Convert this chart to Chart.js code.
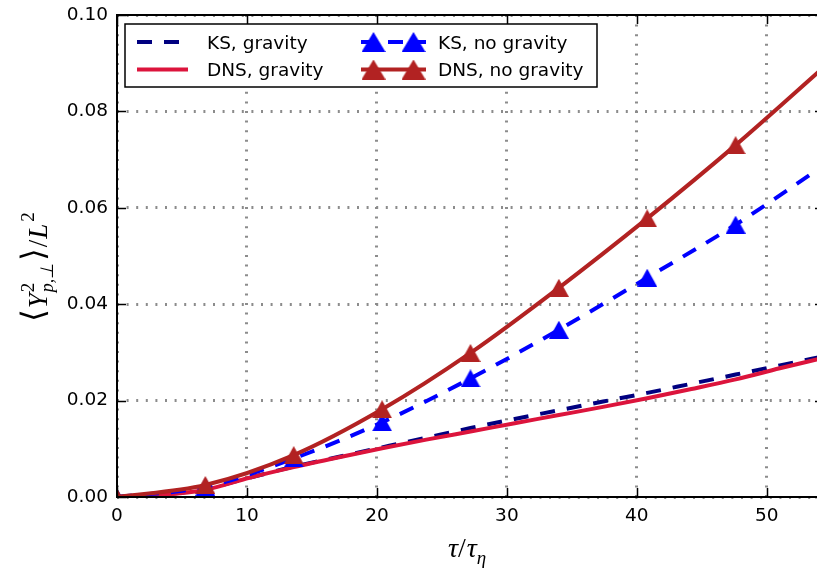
<!DOCTYPE html>
<html>
<head>
<meta charset="utf-8">
<script src="https://cdn.jsdelivr.net/npm/chart.js@4.4.1/dist/chart.umd.min.js"></script>
<style>
  html, body { margin: 0; padding: 0; background: #fff; overflow: hidden; }
  #frame { width: 817px; height: 573px; overflow: hidden; position: relative; }
  canvas { display: block; position: absolute; left: 0; top: 0; }
</style>
</head>
<body>
<div id="frame"><canvas id="chart" width="830" height="573"></canvas></div>
<script>
// Dispersion of particle pairs, normalised by L^2, against tau / tau_eta
const tauFine     = [0, 3.4, 6.8, 10.2, 13.6, 17.0, 20.4, 23.8, 27.2, 30.6, 34.0, 37.4, 40.8, 44.2, 47.6, 51.0, 54.4];
const ksGravity   = [0, 0.0005, 0.0017, 0.0040, 0.0063, 0.0083, 0.0103, 0.0123, 0.0143, 0.0162, 0.0180, 0.0198, 0.0216, 0.0235, 0.0254, 0.0273, 0.0292];
const dnsGravity  = [0, 0.0004, 0.0015, 0.0040, 0.0062, 0.0082, 0.0101, 0.0119, 0.0136, 0.0153, 0.0170, 0.0187, 0.0205, 0.0224, 0.0244, 0.0267, 0.0289];

const tauMarked    = [0, 6.8, 13.6, 20.4, 27.2, 34.0, 40.8, 47.6, 54.4];
const ksNoGravity  = [0, 0.0021, 0.0080, 0.0155, 0.0246, 0.0347, 0.0455, 0.0565, 0.0688];
const dnsNoGravity = [0, 0.0025, 0.0087, 0.0182, 0.0299, 0.0434, 0.0578, 0.0730, 0.0892];

const seriesNames = ['KS, gravity', 'DNS, gravity', 'KS, no gravity', 'DNS, no gravity'];
const xTickValues = [0, 10, 20, 30, 40, 50];
const yTickValues = [0, 0.02, 0.04, 0.06, 0.08, 0.10];

function triangleSprite(color, w, h) {
  const c = document.createElement('canvas');
  c.width = w; c.height = h;
  const g = c.getContext('2d');
  g.fillStyle = color;
  g.beginPath();
  g.moveTo(w / 2, 0);
  g.lineTo(w, h);
  g.lineTo(0, h);
  g.closePath();
  g.fill();
  return c;
}

const blueTri = triangleSprite('#0000ff', 20, 18);
const redTri = triangleSprite('#b22222', 20, 18);
const blueTriBig = triangleSprite('#0000ff', 24, 20);
const redTriBig = triangleSprite('#b22222', 24, 20);

const pairs = (xs, ys) => xs.map((x, i) => ({ x: x, y: ys[i] }));
// markers everywhere except the final sample on the right-hand edge
const markerRadius = ctx => (ctx.raw && ctx.raw.x < 54) ? 10 : 0;

// Inward ticks and the axes frame, drawn over the curves
const framePlugin = {
  id: 'frame',
  afterDatasetsDraw(chart) {
    const { ctx, chartArea: a, scales } = chart;
    ctx.save();
    ctx.strokeStyle = '#000';
    ctx.lineWidth = 1.5;
    ctx.beginPath();
    scales.x.ticks.forEach(t => {
      const px = Math.round(scales.x.getPixelForValue(t.value)) + 0.5;
      ctx.moveTo(px, a.bottom); ctx.lineTo(px, a.bottom - 9);
      ctx.moveTo(px, a.top); ctx.lineTo(px, a.top + 9);
    });
    scales.y.ticks.forEach(t => {
      const py = Math.round(scales.y.getPixelForValue(t.value)) + 0.5;
      ctx.moveTo(a.left, py); ctx.lineTo(a.left + 9, py);
      ctx.moveTo(a.right, py); ctx.lineTo(a.right - 9, py);
    });
    ctx.stroke();
    ctx.lineWidth = 2;
    ctx.strokeRect(a.left, a.top, a.right - a.left, a.bottom - a.top);
    ctx.restore();
  }
};

// Two-column boxed legend
const legendPlugin = {
  id: 'boxLegend',
  afterDraw(chart) {
    const ctx = chart.ctx;
    const ds = chart.data.datasets;
    ctx.save();
    ctx.fillStyle = '#fff';
    ctx.fillRect(125, 24, 472, 63);
    ctx.strokeStyle = '#000';
    ctx.lineWidth = 1.5;
    ctx.strokeRect(125, 24, 472, 63);

    const slots = [
      { d: 0, x1: 137, x2: 188, tx: 207, y: 42, by: 48.5 },
      { d: 1, x1: 137, x2: 188, tx: 207, y: 69.5, by: 76 },
      { d: 2, x1: 361, x2: 426, tx: 438, y: 42, by: 48.5 },
      { d: 3, x1: 361, x2: 426, tx: 438, y: 69.5, by: 76 }
    ];
    slots.forEach(s => {
      const d = ds[s.d];
      ctx.save();
      ctx.strokeStyle = d.borderColor;
      ctx.lineWidth = d.borderWidth;
      ctx.setLineDash(d.borderDash || []);
      ctx.beginPath();
      ctx.moveTo(s.x1, s.y);
      ctx.lineTo(s.x2, s.y);
      ctx.stroke();
      ctx.restore();
      if (d.legendMarker) {
        const m = d.legendMarker;
        ctx.drawImage(m, s.x1 + 12.5 - m.width / 2, s.y - m.height / 2);
        ctx.drawImage(m, s.x2 - 12.5 - m.width / 2, s.y - m.height / 2);
      }
      ctx.fillStyle = '#000';
      ctx.font = '18.5px "DejaVu Sans"';
      ctx.textAlign = 'left';
      ctx.textBaseline = 'alphabetic';
      ctx.fillText(d.label, s.tx, s.by);
    });
    ctx.restore();
  }
};

// Math-style axis titles
function fontOf(p) {
  return (p.italic ? 'italic ' : '') + p.size + 'px ' + (p.family || '"Liberation Serif"');
}
function drawMath(ctx, items, cx, baseline) {
  const widths = items.map(it => {
    const parts = it.group || [it];
    return Math.max(...parts.map(p => { ctx.font = fontOf(p); return ctx.measureText(p.t).width; })) + (it.gap || 0);
  });
  const total = widths.reduce((a, b) => a + b, 0);
  let x = cx - total / 2;
  items.forEach((it, i) => {
    (it.group || [it]).forEach(p => {
      ctx.font = fontOf(p);
      ctx.fillText(p.t, x + (p.dx || 0), baseline + (p.dy || 0));
    });
    x += widths[i];
  });
}

const titlePlugin = {
  id: 'mathTitles',
  afterDraw(chart) {
    const ctx = chart.ctx;
    ctx.save();
    ctx.fillStyle = '#000';
    ctx.textAlign = 'left';
    ctx.textBaseline = 'alphabetic';
    // x: tau / tau_eta
    drawMath(ctx, [
      { t: 'τ', italic: true, size: 28 },
      { t: '/', size: 28, gap: 1 },
      { t: 'τ', italic: true, size: 28 },
      { t: 'η', italic: true, size: 19, dy: 7 }
    ], 467, 557);
    // y: <Y^2_{p,perp}> / L^2, rotated
    ctx.translate(47, 267);
    ctx.rotate(-Math.PI / 2);
    drawMath(ctx, [
      { t: '⟨', size: 32, family: '"DejaVu Sans"', dy: -3, gap: 1 },
      { t: 'Y', italic: true, size: 27, gap: 1 },
      { group: [
          { t: '2', size: 19, dy: -13 },
          { t: 'p,⊥', italic: true, size: 18, dy: 6 }
        ], gap: 2 },
      { t: '⟩', size: 32, family: '"DejaVu Sans"', dy: -3, gap: 1 },
      { t: '/', size: 27, gap: 1 },
      { t: 'L', italic: true, size: 27, gap: 2 },
      { t: '2', size: 19, dy: -13 }
    ], 0, 0);
    ctx.restore();
  }
};

const tickFont = { family: 'DejaVu Sans', size: 18.5 };
const pad = { top: 15, right: 6, left: 0, bottom: 0 };

const chart = new Chart(document.getElementById('chart'), {
  type: 'line',
  data: {
    datasets: [
      {
        label: seriesNames[0], data: pairs(tauFine, ksGravity),
        borderColor: '#000080', borderWidth: 4, borderDash: [15, 12],
        pointRadius: 0, order: 4, cubicInterpolationMode: 'monotone', clip: 0
      },
      {
        label: seriesNames[1], data: pairs(tauFine, dnsGravity),
        borderColor: '#dc143c', borderWidth: 4,
        pointRadius: 0, order: 3, cubicInterpolationMode: 'monotone', clip: 0
      },
      {
        label: seriesNames[2], data: pairs(tauMarked, ksNoGravity),
        borderColor: '#0000ff', borderWidth: 4, borderDash: [15, 12],
        pointStyle: blueTri, legendMarker: blueTriBig, pointRadius: markerRadius,
        order: 2, cubicInterpolationMode: 'monotone', clip: 0
      },
      {
        label: seriesNames[3], data: pairs(tauMarked, dnsNoGravity),
        borderColor: '#b22222', borderWidth: 4,
        pointStyle: redTri, legendMarker: redTriBig, pointRadius: markerRadius,
        order: 1, cubicInterpolationMode: 'monotone', clip: 0
      }
    ]
  },
  options: {
    responsive: false,
    animation: false,
    events: [],
    layout: { padding: pad, autoPadding: false },
    plugins: { legend: { display: false }, tooltip: { enabled: false } },
    scales: {
      x: {
        type: 'linear', min: 0, max: 54.4,
        afterBuildTicks: s => { s.ticks = xTickValues.map(v => ({ value: v })); },
        afterFit: s => { s.height = 76; s.paddingLeft = 0; s.paddingRight = 0; },
        ticks: { font: tickFont, color: '#000', padding: 8, maxRotation: 0, callback: v => String(v) },
        grid: { color: '#8c8c8c', lineWidth: 3, drawTicks: false },
        border: { display: false, dash: [2, 7.6] }
      },
      y: {
        type: 'linear', min: 0, max: 0.1,
        afterBuildTicks: s => { s.ticks = yTickValues.map(v => ({ value: v })); },
        afterFit: s => { s.width = 117; s.paddingTop = 0; s.paddingBottom = 0; },
        ticks: { font: tickFont, color: '#000', padding: 9, callback: v => Number(v).toFixed(2) },
        grid: { color: '#8c8c8c', lineWidth: 3, drawTicks: false },
        border: { display: false, dash: [2, 7.6] }
      }
    }
  },
  plugins: [framePlugin, legendPlugin, titlePlugin]
});

// Pin the plotting area to its intended box: left 117, top 15, right 824, bottom 497
const wanted = { left: 117, top: 15, right: 824, bottom: 497 };
for (let i = 0; i < 3; i++) {
  const a = chart.chartArea;
  pad.left += wanted.left - a.left;
  pad.top += wanted.top - a.top;
  pad.right += a.right - wanted.right;
  pad.bottom += a.bottom - wanted.bottom;
  chart.options.layout.padding = { ...pad };
  chart.update();
}
</script>
</body>
</html>
